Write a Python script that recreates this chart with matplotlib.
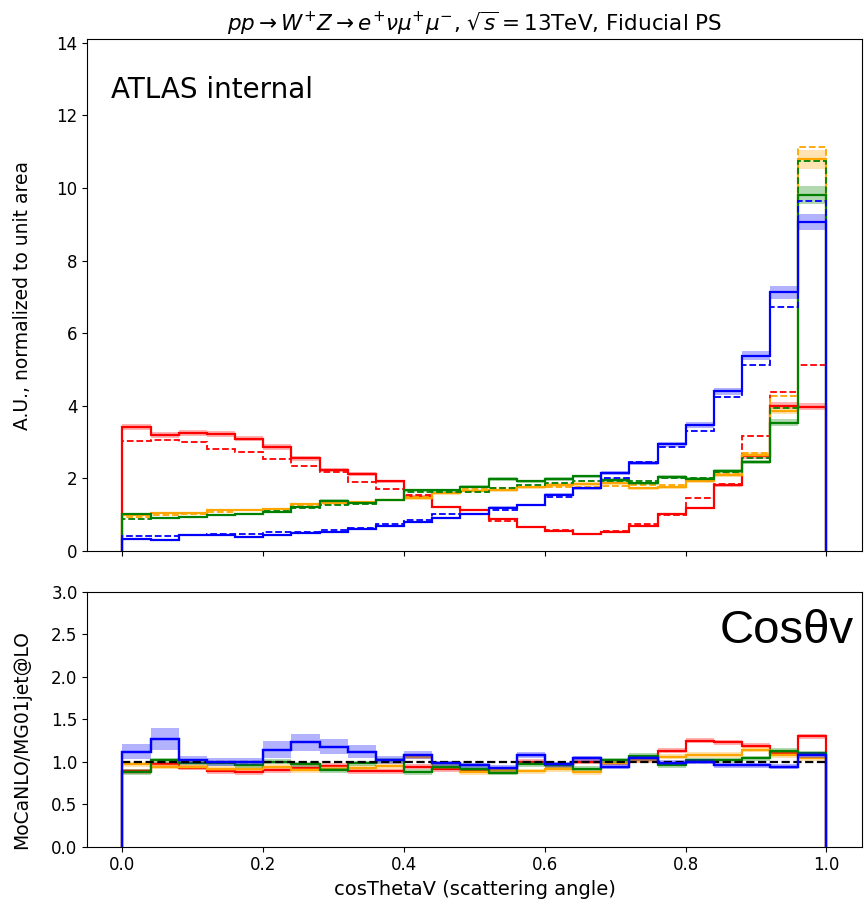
import numpy as np
import matplotlib
matplotlib.use("Agg")
import matplotlib.pyplot as plt

# Binning of cos(theta_V): 25 equal bins on [0, 1]
edges = np.linspace(0.0, 1.0, 26)

# Normalised distributions, MoCaNLO (solid) and MG01jet@LO (dashed)
red_nlo = [3.40, 3.18, 3.24, 3.21, 3.09, 2.86, 2.55, 2.23, 2.12, 1.91, 1.49, 1.21, 1.12,
           0.88, 0.65, 0.54, 0.45, 0.52, 0.69, 1.00, 1.18, 1.80, 2.60, 4.00, 3.97]
red_lo = [3.02, 3.05, 3.00, 2.81, 2.73, 2.53, 2.34, 2.18, 1.90, 1.71, 1.53, 1.21, 1.00,
          0.81, 0.65, 0.56, 0.47, 0.54, 0.73, 0.98, 1.44, 1.84, 3.16, 4.37, 5.13]
blue_nlo = [0.33, 0.30, 0.42, 0.42, 0.39, 0.44, 0.48, 0.51, 0.60, 0.68, 0.79, 0.91, 1.02,
            1.19, 1.27, 1.55, 1.72, 2.14, 2.42, 2.93, 3.46, 4.39, 5.38, 7.12, 9.07]
blue_lo = [0.40, 0.40, 0.42, 0.47, 0.47, 0.51, 0.53, 0.58, 0.63, 0.73, 0.84, 1.00, 1.00,
           1.13, 1.27, 1.49, 1.72, 2.00, 2.44, 2.87, 3.30, 4.23, 5.13, 6.73, 9.63]
orange_nlo = [0.98, 1.04, 1.04, 1.12, 1.13, 1.16, 1.28, 1.32, 1.35, 1.40, 1.44, 1.58, 1.66,
              1.67, 1.75, 1.81, 1.84, 1.86, 1.72, 1.75, 1.91, 2.09, 2.65, 3.86, 10.79]
orange_lo = [0.93, 0.98, 1.02, 1.08, 1.12, 1.15, 1.22, 1.28, 1.33, 1.40, 1.48, 1.60, 1.70,
             1.74, 1.76, 1.77, 1.77, 1.78, 1.81, 1.81, 1.91, 2.14, 2.70, 4.26, 11.12]
green_nlo = [1.02, 0.91, 0.93, 0.98, 1.02, 1.07, 1.21, 1.38, 1.32, 1.40, 1.67, 1.67, 1.77,
             1.97, 1.91, 1.97, 2.05, 1.95, 1.86, 2.03, 1.99, 2.19, 2.44, 3.53, 9.81]
green_lo = [0.88, 0.90, 0.93, 0.98, 1.02, 1.09, 1.18, 1.26, 1.30, 1.41, 1.63, 1.63, 1.63,
            1.72, 1.81, 1.86, 1.91, 1.93, 1.91, 2.00, 2.00, 2.16, 2.56, 3.93, 10.74]

# Ratios MoCaNLO / MG01jet@LO
red_ratio = [0.89, 0.97, 0.93, 0.89, 0.88, 0.90, 0.93, 0.95, 0.89, 0.89, 0.94, 0.91, 0.90,
             0.90, 1.00, 0.96, 1.00, 0.99, 1.02, 1.13, 1.25, 1.23, 1.19, 1.10, 1.30]
blue_ratio = [1.12, 1.27, 1.02, 1.00, 1.00, 1.14, 1.23, 1.18, 1.12, 1.02, 1.08, 0.98, 0.96,
              0.93, 1.08, 0.97, 1.04, 0.94, 1.04, 0.99, 1.00, 0.96, 0.96, 0.94, 1.08]
orange_ratio = [0.97, 0.94, 0.94, 0.92, 0.92, 0.94, 0.90, 0.92, 0.93, 0.95, 1.06, 0.94, 0.88,
                0.90, 0.89, 0.91, 0.88, 0.99, 1.02, 1.06, 1.08, 1.08, 1.14, 1.08, 1.04]
green_ratio = [0.88, 1.02, 0.99, 0.98, 0.96, 1.00, 0.97, 0.90, 0.98, 1.02, 0.88, 0.94, 0.92,
               0.87, 0.97, 0.96, 0.92, 1.02, 1.07, 0.96, 1.02, 1.02, 1.04, 1.13, 1.10]
reference_ratio = [1.0] * 25

# Half-width of the statistical bands on the MoCaNLO curves
blue_ratio_err = [0.085, 0.13, 0.05, 0.05, 0.04, 0.10, 0.10, 0.09, 0.08, 0.05, 0.05, 0.03, 0.03,
                  0.03, 0.04, 0.03, 0.03, 0.03, 0.03, 0.03, 0.03, 0.03, 0.03, 0.03, 0.03]
rel_err_top = 0.025
ratio_err_other = 0.03

series = [
    ("red", red_nlo, red_lo, red_ratio, None),
    ("orange", orange_nlo, orange_lo, orange_ratio, None),
    ("green", green_nlo, green_lo, green_ratio, None),
    ("blue", blue_nlo, blue_lo, blue_ratio, blue_ratio_err),
]

fig = plt.figure(figsize=(8.66, 9.07), dpi=100)
ax = fig.add_axes([0.1008, 0.3928, 0.8942, 0.5639])
rax = fig.add_axes([0.1008, 0.0665, 0.8942, 0.2808])


def band(axis, vals, half, color):
    vals = np.asarray(vals, dtype=float)
    half = np.broadcast_to(np.asarray(half, dtype=float), vals.shape)
    lo = np.append(vals - half, (vals - half)[-1])
    hi = np.append(vals + half, (vals + half)[-1])
    axis.fill_between(edges, lo, hi, step="post", color=color, alpha=0.3, lw=0)


for color, nlo, lo, ratio, rerr in series:
    nlo_a = np.asarray(nlo)
    band(ax, nlo_a, nlo_a * rel_err_top, color)
    ax.stairs(nlo, edges, baseline=0, color=color, lw=1.6)
    ax.stairs(lo, edges, baseline=0, color=color, lw=1.3, ls="--")

    band(rax, ratio, rerr if rerr is not None else ratio_err_other, color)
    rax.stairs(ratio, edges, baseline=0, color=color, lw=1.6)

rax.stairs(reference_ratio, edges, baseline=None, color="black", lw=1.6, ls="--", zorder=3)
# keep the blue outline on top of the reference line at the left edge
rax.stairs(blue_ratio, edges, baseline=0, color="blue", lw=1.6, zorder=3.5)

ax.set_xlim(-0.05, 1.05)
ax.set_ylim(0, 14.1)
ax.set_xticks([0.0, 0.2, 0.4, 0.6, 0.8, 1.0])
ax.set_xticklabels([])
ax.set_yticks([0, 2, 4, 6, 8, 10, 12, 14])
ax.tick_params(labelsize=12)
ax.set_ylabel("A.U., normalized to unit area", fontsize=13.5)
ax.yaxis.set_label_coords(-0.072, 0.5)
ax.set_title(r"$pp \rightarrow W^{+}Z \rightarrow e^{+}\nu\mu^{+}\mu^{-}$, $\sqrt{s}=13$TeV, Fiducial PS",
             fontsize=15.5, pad=6)
ax.text(0.03, 0.9, "ATLAS internal", transform=ax.transAxes, fontsize=20,
        ha="left", va="center")

rax.set_xlim(-0.05, 1.05)
rax.set_ylim(0, 3.0)
rax.set_xticks([0.0, 0.2, 0.4, 0.6, 0.8, 1.0])
rax.set_yticks([0.0, 0.5, 1.0, 1.5, 2.0, 2.5, 3.0])
rax.tick_params(labelsize=12)
rax.set_xlabel("cosThetaV (scattering angle)", fontsize=14)
rax.set_ylabel("MoCaNLO/MG01jet@LO", fontsize=13.5)
rax.yaxis.set_label_coords(-0.072, 0.42)
rax.text(0.99, 0.935, "Cosθv", transform=rax.transAxes, fontsize=34,
         family="Liberation Sans", ha="right", va="top")

fig.savefig("out.png", dpi=100)
